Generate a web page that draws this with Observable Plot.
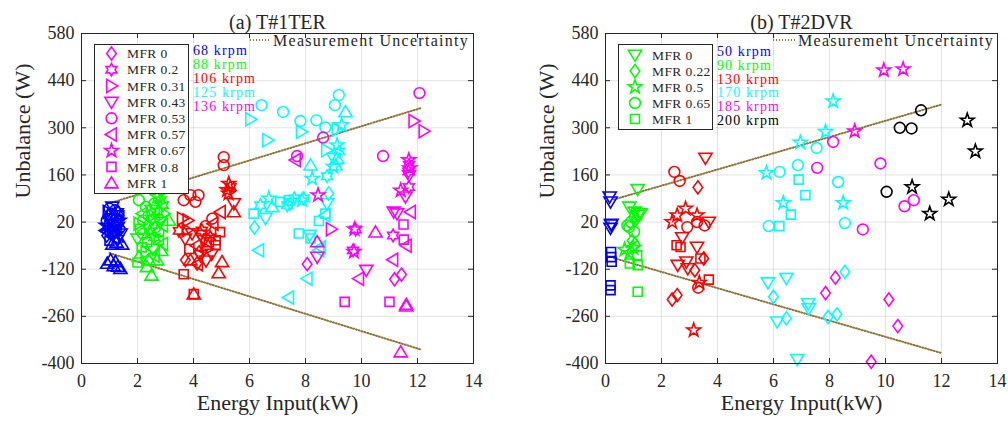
<!DOCTYPE html>
<html>
<head>
<meta charset="utf-8">
<script src="https://cdn.jsdelivr.net/npm/d3@7"></script>
<script src="https://cdn.jsdelivr.net/npm/@observablehq/plot@0.6"></script>
<style>
  html, body { margin: 0; padding: 0; background: #fff; }
  #chart { position: relative; width: 1008px; height: 423px; overflow: hidden; background: #fff; }
  #chart > svg { position: absolute; top: 0; }
  #chart svg text { font-family: "Liberation Serif", "DejaVu Serif", serif !important; }
</style>
</head>
<body>
<div id="chart"></div>
<script>
// ---- axes ----
const xTicks = [0, 2, 4, 6, 8, 10, 12, 14];
const yTicks = [-400, -260, -120, 20, 160, 300, 440, 580];

// ---- (a) T#1TER : MFR categories, marker shapes, speeds ----
const terMfr = [0, 0.2, 0.31, 0.43, 0.53, 0.57, 0.67, 0.8, 1];
const terShape = ["diamond", "hexagram", "triangleRight", "triangleDown", "circle", "triangleLeft", "pentagram", "square", "triangleUp"];
const terSpeeds = ["68 krpm", "88 krpm", "106 krpm", "125 krpm", "136 krpm"];
const terColors = ["#0000ff", "#00ff00", "#ff0000", "#00ffff", "#ff00ff"];

// each point: [energy input kW, unbalance W, MFR]
const ter68 = [
  [1.0, 60, 0.53], [1.2, 55, 0.53], [1.1, 45, 0.53], [0.95, 40, 0], [1.3, 50, 0.2], [1.25, 35, 0.31],
  [1.05, 30, 0.43], [0.9, 25, 0.53], [1.15, 20, 0.57], [1.35, 25, 0.67], [1.0, 15, 0.8], [1.2, 10, 0],
  [0.95, 5, 0.2], [1.1, 0, 0.31], [1.3, 5, 0.43], [0.85, -5, 0.57], [1.05, -10, 0.53], [1.25, -5, 0.8],
  [1.4, -15, 0.43], [0.9, -20, 0], [1.15, -25, 0.57], [1.3, -30, 0.2], [1.0, -35, 0.8], [1.2, -15, 0.67],
  [1.1, 65, 0.43], [0.95, 50, 0.31], [1.35, 40, 0.8], [1.25, 15, 0.53], [0.88, 10, 0.67], [1.4, 0, 0],
  [1.1, -46, 1], [1.45, -46, 1], [1.25, -40, 1], [1.04, -93, 1], [1.21, -98, 1], [1.39, -118, 1],
  [0.92, -103, 1], [1.15, -110, 1], [1.3, -112, 1]
];
const ter88 = [
  [2.05, 85, 0.53], [2.82, 85, 0.2], [2.7, 95, 0.67], [2.6, 75, 0.53], [2.9, 70, 0.2], [2.3, 65, 0.53],
  [2.5, 55, 0.43], [2.75, 55, 0.67], [2.17, 45, 0.57], [2.4, 40, 0.53], [2.95, 45, 0.31], [3.12, 25, 1],
  [2.2, 25, 0.53], [2.55, 30, 0.2], [2.8, 20, 0.43], [2.05, 15, 0.31], [2.35, 10, 0], [2.65, 5, 0.53],
  [2.9, 10, 0.57], [2.1, 0, 0.8], [2.45, -5, 0.67], [2.75, -10, 0.53], [2.2, -15, 0.53], [2.6, -25, 0.2],
  [2.76, -34, 0.8], [2.0, -30, 0.43], [2.35, -40, 0.8], [2.9, -45, 0.57], [2.15, -55, 0.8], [2.55, -60, 0.43],
  [2.85, -65, 1], [2.3, -70, 0.31], [2.05, -83, 1], [2.4, -93, 1], [2.7, -93, 1], [2.34, -113, 1],
  [2.5, -138, 1], [2.0, -100, 0.8], [2.6, -80, 0.57]
];
const ter106 = [
  [5.08, 213, 0.53], [5.08, 189, 0.53], [3.65, 85, 0.53], [3.89, 100, 0.53], [4.18, 100, 0.53], [4.07, 80, 0.53],
  [5.26, 134, 0.67], [5.2, 115, 0.67], [5.32, 124, 0.2], [5.25, 105, 0.67], [5.44, 75, 0.43], [5.44, 50, 1],
  [4.96, 50, 0.57], [4.67, 30, 0.53], [3.8, 25, 0.31], [3.77, -4, 0.31], [4.43, 8, 0.53], [3.48, -6, 0.2],
  [3.95, -14, 0.43], [4.25, -19, 0.43], [4.37, -34, 0.43], [4.79, -34, 0.8], [4.79, -49, 0.8], [4.55, -40, 0.8],
  [4.6, -25, 0.2], [4.1, -50, 0.57], [4.5, -60, 0.31], [3.85, -60, 0.8], [4.2, -70, 0], [4.65, -75, 0.43],
  [4.25, -79, 0.43], [3.71, -93, 0], [4.13, -103, 0], [3.89, -93, 1], [4.45, -95, 0.43], [5.02, -98, 1],
  [3.65, -135, 0.8], [4.9, -131, 1], [4.01, -194, 0.8], [4.01, -194, 1], [4.15, -105, 0.57], [4.95, -10, 0.8],
  [3.6, 30, 0.31], [4.3, -5, 0.2], [3.7, -30, 0.43], [4.7, 15, 0.57]
];
const ter125 = [
  [6.43, 367, 0.53], [7.2, 347, 0.53], [6.04, 325, 0.31], [6.65, 263, 0.31], [7.82, 320, 0.53], [7.85, 288, 0.31],
  [8.39, 322, 0.53], [8.71, 301, 0.53], [9.05, 367, 0.53], [9.19, 397, 0.53], [9.43, 347, 1], [9.13, 295, 0.31],
  [9.29, 308, 0.67], [8.75, 233, 0.31], [9.13, 248, 0.67], [9.13, 209, 1], [9.07, 189, 1], [9.0, 184, 0.67],
  [8.18, 189, 1], [8.24, 149, 0.67], [8.77, 156, 0.2], [9.2, 230, 0.2], [8.83, 105, 0], [8.77, 75, 0.43],
  [8.71, 45, 0.8], [8.48, 23, 0.8], [6.15, 45, 0.8], [6.57, 31, 0.43], [6.39, 70, 0.2], [6.69, 90, 0.67],
  [6.81, 65, 1], [7.1, 80, 0.8], [7.35, 70, 0.2], [7.4, 85, 0.8], [7.6, 90, 0.2], [7.88, 85, 0.67],
  [7.94, 90, 0.2], [7.46, 75, 0.43], [6.18, 4, 0], [6.33, -64, 0.57], [7.76, -14, 0.8], [8.18, -29, 0.8],
  [8.15, -19, 0.43], [8.48, -64, 0.57], [8.54, -55, 0.57], [8.06, -148, 0.57], [7.4, -204, 0.57], [8.7, 40, 0.57],
  [9.0, 210, 0.43]
];
const ter136 = [
  [12.07, 403, 0.53], [8.63, 271, 0.53], [7.7, 216, 0.53], [7.64, 204, 0.57], [10.77, 216, 0.53], [11.87, 320, 0.31],
  [12.23, 290, 0.31], [11.69, 204, 0.67], [11.7, 190, 0.2], [11.72, 180, 0.67], [11.68, 170, 0.2], [11.7, 159, 0.43],
  [8.45, 100, 0.67], [11.4, 114, 0.67], [11.69, 124, 0.2], [11.57, 95, 0.43], [11.27, 45, 0.43], [11.75, 50, 0.57],
  [11.15, 50, 0.43], [11.5, 13, 0.8], [9.75, -1, 0.67], [9.79, -2, 0.2], [10.5, -10, 1], [11.13, -20, 0.2],
  [11.51, -32, 0.8], [11.6, -50, 0.57], [8.92, -1, 0.31], [8.42, -39, 1], [9.7, -64, 0.2], [9.73, -68, 0.67],
  [8.42, -84, 0.43], [8.06, -105, 0], [11.12, -92, 0.57], [10.17, -123, 0.43], [9.9, -148, 0.57], [11.18, -150, 0],
  [11.43, -136, 0], [9.4, -217, 0.8], [11.0, -217, 0.8], [11.6, -225, 1], [11.6, -230, 1], [11.4, -366, 1]
];
const terSeries = [ter68, ter88, ter106, ter125, ter136];

// ---- (b) T#2DVR ----
const dvrMfr = [0, 0.22, 0.5, 0.65, 1];
const dvrShape = ["triangleDown", "diamond", "pentagram", "circle", "square"];
const dvrSpeeds = ["50 krpm", "90 krpm", "130 krpm", "170 krpm", "185 krpm", "200 krpm"];
const dvrColors = ["#0000ff", "#00ff00", "#ff0000", "#00ffff", "#ff00ff", "#000000"];

const dvr50 = [
  [0.15, 95, 0], [0.18, 80, 0], [0.2, 12, 0], [0.18, 2, 0], [0.21, 14, 0],
  [0.2, -69, 1], [0.2, -84, 1], [0.22, -98, 1], [0.18, -168, 1], [0.18, -182, 1]
];
const dvr90 = [
  [1.15, 117, 0], [0.85, 65, 0], [1.05, 50, 0], [1.15, 40, 0], [1.25, 45, 0], [0.78, 10, 0.65],
  [0.9, 20, 0.65], [1.02, -9, 0.65], [0.85, 5, 0.65], [1.1, 30, 0.22], [1.0, 35, 0.22], [0.95, -35, 0.22],
  [1.05, -45, 0.22], [0.68, -62, 0.5], [1.0, -57, 0.5], [0.85, -72, 0.5], [0.87, -103, 1], [1.13, -79, 1],
  [1.15, -108, 1], [1.15, -187, 1]
];
const dvr130 = [
  [3.57, 210, 0], [2.46, 169, 0.65], [2.65, 142, 0.65], [3.3, 123, 0.22], [2.38, 20, 0.5], [2.56, 40, 0.5],
  [2.86, 60, 0.5], [3.27, 40, 0.5], [2.92, 5, 0.65], [3.27, 20, 0.65], [3.54, 10, 0.65], [3.69, 20, 0],
  [2.74, -26, 0], [2.54, -49, 1], [2.68, -54, 1], [3.27, -54, 0], [2.58, -108, 0], [2.89, -98, 0],
  [2.94, -118, 0], [3.19, -123, 0.22], [3.51, -88, 0.22], [3.39, -88, 1], [3.69, -151, 1], [3.31, -175, 0.65],
  [3.35, -160, 0.5], [2.38, -210, 0.22], [2.56, -197, 0.22], [3.15, -301, 0.5]
];
const dvr170 = [
  [8.13, 379, 0.5], [7.86, 288, 0.5], [6.96, 256, 0.5], [7.54, 240, 0.65], [6.87, 189, 0.65], [5.75, 166, 0.5],
  [6.22, 169, 0.65], [6.9, 146, 1], [8.31, 139, 0.65], [7.14, 100, 1], [6.35, 77, 0.5], [8.49, 77, 0.5],
  [6.62, 42, 1], [5.83, 8, 0.65], [6.21, 8, 1], [8.55, 17, 0.65], [5.8, -160, 0], [6.46, -147, 0],
  [8.55, -128, 0.22], [6.0, -202, 0.22], [7.24, -222, 0], [7.26, -237, 0], [6.46, -266, 0.22], [6.13, -276, 0],
  [7.95, -262, 0.22], [8.27, -254, 0.22], [6.85, -388, 0]
];
const dvr185 = [
  [9.94, 471, 0.5], [10.63, 474, 0.5], [8.9, 290, 0.5], [8.13, 258, 0.65], [7.56, 181, 0.65], [9.82, 194, 0.65],
  [10.68, 67, 0.65], [11.01, 85, 0.65], [9.19, -2, 0.65], [8.21, -145, 0.22], [7.86, -191, 0.22], [10.12, -210, 0.22],
  [10.44, -289, 0.22], [9.49, -395, 0.22]
];
const dvr200 = [
  [11.27, 352, 0.65], [10.51, 300, 0.65], [10.93, 298, 0.65], [10.04, 110, 0.65], [12.92, 322, 0.5],
  [13.21, 230, 0.5], [10.95, 124, 0.5], [12.26, 87, 0.5], [11.58, 45, 0.5]
];
const dvrSeries = [dvr50, dvr90, dvr130, dvr170, dvr185, dvr200];

// measurement uncertainty bounds: [kW, W] end points
const terUpper = [[1.0, 76], [12.1, 358]];
const terLower = [[1.0, -72], [12.1, -358]];
const dvrUpper = [[0.3, 87], [12.0, 369]];
const dvrLower = [[0.3, -87], [12.0, -369]];

const uncertaintyColor = "#8c7535";
const uncertaintyDash = "1,2";
const inkColor = "#262626";
const serif = "Liberation Serif";

// ---- marker shapes (outline symbols) ----
function polygon(pts) {
  return {
    draw(ctx, size) {
      const s = Math.sqrt(size / Math.PI);
      pts.forEach(([a, b], i) => (i ? ctx.lineTo(a * s, b * s) : ctx.moveTo(a * s, b * s)));
      ctx.closePath();
    }
  };
}
function star(n, outer, inner) {
  const pts = [];
  for (let i = 0; i < 2 * n; i++) {
    const a = -Math.PI / 2 + (i * Math.PI) / n;
    const r = i % 2 ? inner : outer;
    pts.push([r * Math.cos(a), r * Math.sin(a)]);
  }
  return polygon(pts);
}
const symbolTypes = {
  circle: { draw(ctx, size) { const s = Math.sqrt(size / Math.PI) * 0.9; ctx.moveTo(s, 0); ctx.arc(0, 0, s, 0, 2 * Math.PI); } },
  diamond: polygon([[0, -1.1], [0.8, 0], [0, 1.1], [-0.8, 0]]),
  square: polygon([[-0.75, -0.75], [0.75, -0.75], [0.75, 0.75], [-0.75, 0.75]]),
  triangleUp: polygon([[0, -1.05], [1.1, 0.8], [-1.1, 0.8]]),
  triangleDown: polygon([[0, 1.05], [1.1, -0.8], [-1.1, -0.8]]),
  triangleRight: polygon([[1.05, 0], [-0.8, 1.1], [-0.8, -1.1]]),
  triangleLeft: polygon([[-1.05, 0], [0.8, 1.1], [0.8, -1.1]]),
  pentagram: star(5, 1.2, 0.47),
  hexagram: star(6, 1.05, 0.6)
};
const markerR = 6;

// ---- one scatter panel ----
function panel({ title, series, colors, mfr, shapes, upper, lower, marginLeft, marginRight }) {
  const W = 504, H = 423, mt = 33, mb = 60;
  const fw = W - marginLeft - marginRight, fh = H - mt - mb;
  const tick = 5;
  return Plot.plot({
    width: W, height: H, marginLeft, marginRight, marginTop: mt, marginBottom: mb,
    x: { domain: [0, 14] },
    y: { domain: [-400, 580] },
    symbol: { domain: mfr, range: shapes.map((k) => symbolTypes[k]) },
    style: { fontFamily: serif, fontSize: "18px", color: inkColor, background: "transparent", overflow: "visible" },
    marks: [
      Plot.ruleX(xTicks, { x: (d) => d, stroke: "#000", strokeOpacity: 0.11 }),
      Plot.ruleY(yTicks, { y: (d) => d, stroke: "#000", strokeOpacity: 0.11 }),
      Plot.line(upper, { x: (d) => d[0], y: (d) => d[1], stroke: uncertaintyColor, strokeWidth: 2, strokeDasharray: uncertaintyDash }),
      Plot.line(lower, { x: (d) => d[0], y: (d) => d[1], stroke: uncertaintyColor, strokeWidth: 2, strokeDasharray: uncertaintyDash }),
      ...series.map((s, i) =>
        Plot.dot(s, { x: (d) => d[0], y: (d) => d[1], symbol: (d) => d[2], stroke: colors[i], fill: "none", r: markerR, strokeWidth: 1.6 })
      ),
      // inward tick marks on all four sides
      Plot.tickY(yTicks, { y: (d) => d, insetRight: fw - tick, stroke: inkColor }),
      Plot.tickY(yTicks, { y: (d) => d, insetLeft: fw - tick, stroke: inkColor }),
      Plot.tickX(xTicks, { x: (d) => d, insetBottom: fh - tick, stroke: inkColor }),
      Plot.tickX(xTicks, { x: (d) => d, insetTop: fh - tick, stroke: inkColor }),
      Plot.frame({ stroke: inkColor, strokeWidth: 1 }),
      Plot.axisX({ ticks: xTicks, tickSize: 0, tickPadding: 11, tickFormat: (d) => String(d), label: null, fontSize: 18, fontFamily: serif, letterSpacing: "0.04em" }),
      Plot.axisY({ ticks: yTicks, tickSize: 0, tickPadding: 7, tickFormat: (d) => String(d), label: null, fontSize: 18, fontFamily: serif }),
      Plot.text([title], { text: (d) => d, frameAnchor: "top", dy: -19, fontSize: 20, fontFamily: serif, letterSpacing: "0.12em" }),
      Plot.text(["Energy Input(kW)"], { text: (d) => d, frameAnchor: "bottom", dy: 46, fontSize: 22, fontFamily: serif, letterSpacing: "0.09em" }),
      Plot.text(["Unbalance (W)"], { text: (d) => d, frameAnchor: "left", dx: -59, rotate: -90, fontSize: 22, fontFamily: serif, letterSpacing: "0.08em" })
    ]
  });
}

const chart = document.getElementById("chart");
const left = panel({ title: "(a) T#1TER", series: terSeries, colors: terColors, mfr: terMfr, shapes: terShape,
  upper: terUpper, lower: terLower, marginLeft: 81, marginRight: 31 });
left.style.left = "0px";
chart.appendChild(left);
const right = panel({ title: "(b) T#2DVR", series: dvrSeries, colors: dvrColors, mfr: dvrMfr, shapes: dvrShape,
  upper: dvrUpper, lower: dvrLower, marginLeft: 101, marginRight: 11 });
right.style.left = "504px";
chart.appendChild(right);

// ---- legends ----
const overlay = d3.select(chart).append("svg")
  .attr("width", 1008).attr("height", 423)
  .style("left", "0px").style("pointer-events", "none")
  .attr("font-family", serif);

function symbolPath(key) {
  const p = d3.path();
  symbolTypes[key].draw(p, Math.PI * markerR * markerR);
  return p.toString();
}

function mfrLegend({ x, y, w, h, labels, shapes, color, symX, textX, rowY, rowStep }) {
  overlay.append("rect").attr("x", x + 0.5).attr("y", y + 0.5).attr("width", w).attr("height", h)
    .attr("fill", "#fff").attr("stroke", inkColor).attr("stroke-width", 1);
  labels.forEach((m, i) => {
    const cy = rowY + i * rowStep;
    overlay.append("path").attr("d", symbolPath(shapes[i]))
      .attr("transform", `translate(${symX},${cy})`)
      .attr("fill", "none").attr("stroke", color).attr("stroke-width", 1.6);
    overlay.append("text").attr("x", textX).attr("y", cy).attr("dy", "0.35em")
      .attr("font-size", 13.5).attr("letter-spacing", "0.03em").attr("fill", inkColor).text(`MFR ${m}`);
  });
}
mfrLegend({ x: 94, y: 44, w: 94, h: 149, labels: terMfr, shapes: terShape, color: "#ff00ff", symX: 111.5, textX: 127, rowY: 53.5, rowStep: 16.2 });
mfrLegend({ x: 618, y: 44, w: 94, h: 85, labels: dvrMfr, shapes: dvrShape, color: "#00ff00", symX: 635, textX: 652, rowY: 55, rowStep: 16 });

function speedLabels(x, y0, step, labels, colors) {
  labels.forEach((t, i) => {
    overlay.append("text").attr("x", x).attr("y", y0 + i * step).attr("dy", "0.35em")
      .attr("font-size", 14).attr("letter-spacing", "0.08em").attr("fill", colors[i]).text(t);
  });
}
speedLabels(193, 50, 14, terSpeeds, terColors);
speedLabels(717, 51, 13.8, dvrSpeeds, dvrColors);

function uncertaintyKey(x1, x2, y) {
  overlay.append("line").attr("x1", x1).attr("x2", x2).attr("y1", y).attr("y2", y)
    .attr("stroke", uncertaintyColor).attr("stroke-width", 2).attr("stroke-dasharray", uncertaintyDash);
  overlay.append("text").attr("x", x2 + 2).attr("y", y).attr("dy", "0.35em")
    .attr("font-size", 16).attr("letter-spacing", "0.08em").attr("fill", inkColor).text("Measurement Uncertainty");
}
uncertaintyKey(250, 271, 40);
uncertaintyKey(773, 796, 40);
</script>
</body>
</html>
